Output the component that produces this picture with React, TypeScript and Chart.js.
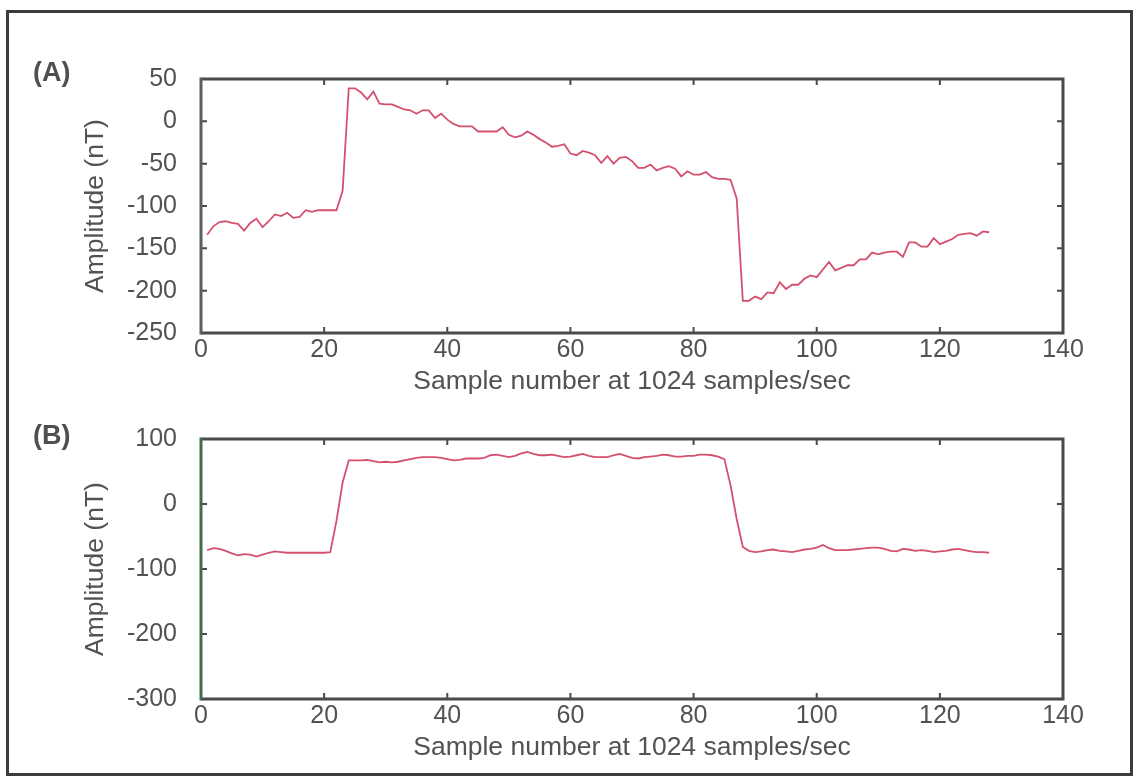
import { useEffect, useRef } from 'react';
import { Chart, registerables } from 'chart.js';

Chart.register(...registerables);

// Sample numbers (1..128) at 1024 samples/sec
const sampleNumbers: number[] = [
  1, 2, 3, 4, 5, 6, 7, 8, 9, 10, 11, 12, 13, 14, 15, 16, 17, 18, 19, 20,
  21, 22, 23, 24, 25, 26, 27, 28, 29, 30, 31, 32, 33, 34, 35, 36, 37, 38, 39, 40,
  41, 42, 43, 44, 45, 46, 47, 48, 49, 50, 51, 52, 53, 54, 55, 56, 57, 58, 59, 60,
  61, 62, 63, 64, 65, 66, 67, 68, 69, 70, 71, 72, 73, 74, 75, 76, 77, 78, 79, 80,
  81, 82, 83, 84, 85, 86, 87, 88, 89, 90, 91, 92, 93, 94, 95, 96, 97, 98, 99, 100,
  101, 102, 103, 104, 105, 106, 107, 108, 109, 110, 111, 112, 113, 114, 115, 116, 117, 118, 119, 120,
  121, 122, 123, 124, 125, 126, 127, 128,
];

// Panel (A) amplitude (nT)
const amplitudeA: number[] = [
  -134, -124, -119, -118, -120, -121, -129, -120, -115, -125,
  -118, -110, -112, -108, -114, -113, -105, -107, -105, -105,
  -105, -105, -82, 39, 39, 34, 26, 35, 21, 20,
  20, 17, 14, 13, 9, 13, 13, 4, 9, 2,
  -3, -6, -6, -6, -12, -12, -12, -12, -7, -16,
  -19, -17, -12, -16, -21, -25, -30, -29, -27, -38,
  -40, -35, -37, -40, -49, -41, -50, -43, -42, -47,
  -55, -55, -51, -58, -55, -53, -56, -65, -59, -63,
  -63, -60, -66, -68, -68, -69, -91, -212, -212, -207,
  -210, -202, -203, -190, -198, -193, -193, -186, -182, -184,
  -175, -166, -176, -173, -170, -170, -163, -163, -155, -157,
  -155, -154, -154, -160, -143, -143, -148, -148, -138, -145,
  -142, -139, -134, -133, -132, -135, -130, -131,
];

// Panel (B) amplitude (nT)
const amplitudeB: number[] = [
  -71, -68, -69, -72, -76, -79, -77, -78, -81, -78,
  -75, -73, -74, -75, -75, -75, -75, -75, -75, -75,
  -74, -26, 33, 67, 67, 67, 68, 66, 64, 65,
  64, 65, 67, 69, 71, 72, 72, 72, 71, 69,
  67, 68, 70, 70, 70, 71, 75, 76, 74, 72,
  74, 78, 80, 77, 75, 75, 76, 74, 72, 73,
  75, 77, 74, 72, 72, 72, 75, 77, 74, 71,
  70, 72, 73, 74, 76, 75, 73, 73, 74, 74,
  76, 76, 75, 73, 69, 29, -23, -66, -72, -74,
  -73, -71, -70, -72, -73, -74, -72, -70, -69, -67,
  -63, -68, -71, -71, -71, -70, -69, -68, -67, -67,
  -69, -72, -73, -69, -70, -72, -71, -72, -74, -73,
  -72, -70, -69, -71, -73, -74, -74, -75,
];

const xTickValues: number[] = [0, 20, 40, 60, 80, 100, 120, 140];
const yTickValuesA: number[] = [50, 0, -50, -100, -150, -200, -250];
const yTickValuesB: number[] = [100, 0, -100, -200, -300];

const xTitle = 'Sample number at 1024 samples/sec';
const yTitle = 'Amplitude (nT)';

const FONT = '"Liberation Sans", Arial, Helvetica, sans-serif';
const TEXT_COLOR = '#525252';
const AXIS_COLOR = '#4a4a4a';
const LINE_COLOR = '#d4506e';

const boxTicksPlugin = {
  id: 'boxTicks',
  afterDraw(chart: any, _args: any, opts: any) {
    const { ctx, chartArea } = chart;
    const { left, right, top, bottom } = chartArea;
    const xs = chart.scales.x;
    const ys = chart.scales.y;
    ctx.save();
    ctx.strokeStyle = AXIS_COLOR;
    ctx.lineWidth = 2;
    const len = 6;
    xs.ticks.forEach((t: any) => {
      const px = xs.getPixelForValue(t.value);
      ctx.beginPath();
      ctx.moveTo(px, top);
      ctx.lineTo(px, top + len);
      ctx.moveTo(px, bottom);
      ctx.lineTo(px, bottom - len);
      ctx.stroke();
    });
    ys.ticks.forEach((t: any) => {
      const py = ys.getPixelForValue(t.value);
      ctx.beginPath();
      ctx.moveTo(left, py);
      ctx.lineTo(left + len, py);
      ctx.moveTo(right, py);
      ctx.lineTo(right - len, py);
      ctx.stroke();
    });
    ctx.lineWidth = 3;
    ctx.beginPath();
    ctx.moveTo(left, top);
    ctx.lineTo(right, top);
    ctx.lineTo(right, bottom);
    ctx.lineTo(left, bottom);
    ctx.stroke();
    ctx.strokeStyle = (opts && opts.leftColor) || AXIS_COLOR;
    ctx.beginPath();
    ctx.moveTo(left, bottom + 1.5);
    ctx.lineTo(left, top - 1.5);
    ctx.stroke();
    ctx.restore();
  },
};

function makeConfig(
  values: number[],
  yMin: number,
  yMax: number,
  yTicks: number[],
  padTop: number,
  leftColor: string
): any {
  return {
    type: 'line',
    data: {
      datasets: [
        {
          data: sampleNumbers.map((x, i) => ({ x, y: values[i] })),
          borderColor: LINE_COLOR,
          borderWidth: 1.8,
          pointRadius: 0,
          tension: 0,
          fill: false,
        },
      ],
    },
    options: {
      responsive: false,
      animation: false,
      layout: { padding: { top: padTop, right: 74, left: 0, bottom: 0 } },
      plugins: {
        legend: { display: false },
        tooltip: { enabled: false },
        boxTicks: { leftColor },
      },
      scales: {
        x: {
          type: 'linear',
          min: 0,
          max: 140,
          afterBuildTicks: (scale: any) => {
            scale.ticks = xTickValues.map((v) => ({ value: v }));
          },
          afterFit: (scale: any) => {
            scale.height = 67;
          },
          grid: { display: false, drawTicks: false },
          border: { display: false },
          ticks: {
            padding: 2,
            color: TEXT_COLOR,
            font: { family: FONT, size: 25 },
            maxRotation: 0,
            autoSkip: false,
          },
          title: {
            display: true,
            text: xTitle,
            color: TEXT_COLOR,
            font: { family: FONT, size: 26.5 },
            padding: { top: 0, bottom: 2 },
          },
        },
        y: {
          type: 'linear',
          min: yMin,
          max: yMax,
          afterBuildTicks: (scale: any) => {
            scale.ticks = yTicks.map((v) => ({ value: v }));
          },
          afterFit: (scale: any) => {
            scale.width = 201;
          },
          grid: { display: false, drawTicks: false },
          border: { display: false },
          ticks: {
            padding: 24,
            color: TEXT_COLOR,
            font: { family: FONT, size: 25 },
            autoSkip: false,
          },
          title: {
            display: true,
            text: yTitle,
            color: TEXT_COLOR,
            font: { family: FONT, size: 26.5 },
            padding: { top: 80, bottom: 0 },
          },
        },
      },
    },
    plugins: [boxTicksPlugin],
  };
}

function Panel(props: {
  top: number;
  height: number;
  values: number[];
  yMin: number;
  yMax: number;
  yTicks: number[];
  padTop: number;
  leftColor: string;
}) {
  const ref = useRef<HTMLCanvasElement | null>(null);
  useEffect(() => {
    if (!ref.current) return;
    const chart = new Chart(
      ref.current,
      makeConfig(props.values, props.yMin, props.yMax, props.yTicks, props.padTop, props.leftColor)
    );
    return () => chart.destroy();
  }, []);
  return (
    <canvas
      ref={ref}
      width={1137}
      height={props.height}
      style={{ position: 'absolute', left: 0, top: props.top, width: 1137, height: props.height }}
    />
  );
}

const labelStyle: any = {
  position: 'absolute',
  left: 33,
  fontFamily: FONT,
  fontWeight: 'bold',
  fontSize: 27,
  lineHeight: '27px',
  color: '#4f4f4f',
  margin: 0,
};

export default function App() {
  return (
    <div
      style={{
        position: 'absolute',
        left: 0,
        top: 0,
        width: 1137,
        height: 780,
        background: '#ffffff',
        overflow: 'hidden',
      }}
    >
      <div
        style={{
          position: 'absolute',
          left: 6,
          top: 10,
          width: 1127,
          height: 766,
          border: '3px solid #3c3c3c',
          boxSizing: 'border-box',
        }}
      />
      <Panel top={40} height={360} values={amplitudeA} yMin={-250} yMax={50} yTicks={yTickValuesA} padTop={29} leftColor="#55635a" />
      <Panel top={400} height={366} values={amplitudeB} yMin={-300} yMax={100} yTicks={yTickValuesB} padTop={32} leftColor="#3f6e48" />
      <div style={{ ...labelStyle, top: 59 }}>(A)</div>
      <div style={{ ...labelStyle, top: 422 }}>(B)</div>
    </div>
  );
}
